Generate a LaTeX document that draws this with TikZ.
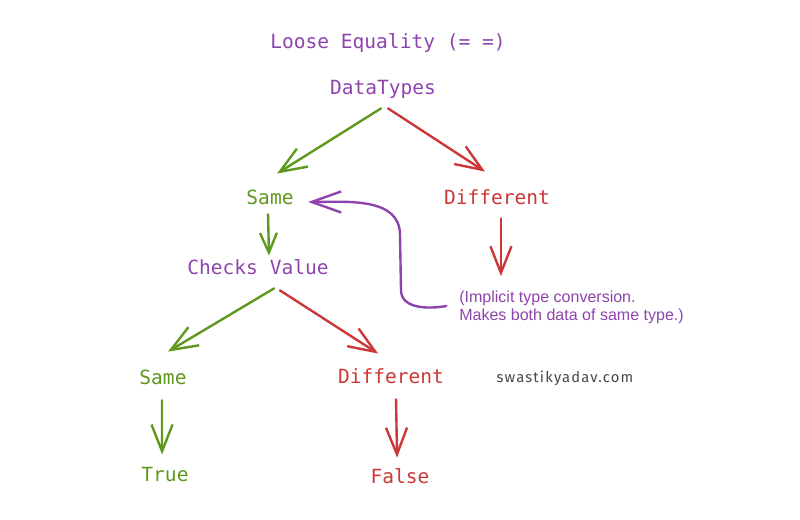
\documentclass[tikz,border=0pt]{standalone}
\usepackage{fontspec}
\setmainfont{Liberation Sans}
\newfontfamily\codefont{DejaVu Sans Mono}
\newfontfamily\signfont[LetterSpace=8]{Fira Sans}
\usetikzlibrary{arrows.meta}

\definecolor{eqpurple}{RGB}{142,68,173}
\definecolor{eqgreen}{RGB}{94,152,28}
\definecolor{eqred}{RGB}{204,55,55}
\definecolor{eqgray}{RGB}{70,70,70}

\begin{document}
\begin{tikzpicture}[txt/.style = {font=\codefont\fontsize{13.9}{16}\selectfont, inner sep=2pt, text height=10.5pt, text depth=3.5pt},
    yes/.style = {draw=eqgreen, line width=1.7pt, line cap=round, -{Straight Barb[length=19pt, width=15pt]}},
    no/.style = {draw=eqred, line width=1.7pt, line cap=round, -{Straight Barb[length=19pt, width=15pt]}},
    hint/.style = {draw=eqpurple, line width=1.7pt, line cap=round, -{Straight Barb[length=21pt, width=15pt]}}]
    \useasboundingbox (0, 0) rectangle (20, 13);

    \node[txt, text=eqpurple] (title) at (9.7, 11.9) {Loose Equality (= =)};
    \node[txt, text=eqpurple] (dt) at (9.575, 10.75) {DataTypes};

    \node[txt, text=eqgreen] (same1) at (6.75, 8.0) {Same};
    \node[txt, text=eqred] (diff1) at (12.425, 8.0) {Different};
    \node[txt, text=eqpurple] (check) at (6.45, 6.25) {Checks Value};

    \node[txt, text=eqgreen] (same2) at (4.075, 3.5) {Same};
    \node[txt, text=eqred] (diff2) at (9.775, 3.525) {Different};
    \node[txt, text=eqgreen] (true) at (4.125, 1.075) {True};
    \node[txt, text=eqred] (false) at (10.0, 1.025) {False};

    \node[anchor=west, align=left, inner sep=0pt, text=eqpurple, font=\fontsize{11.4}{12.8}\selectfont] (note) at (11.475, 5.325) {(Implicit type conversion.\\Makes both data of same type.)};
    \node[text=eqgray, font=\signfont\fontsize{10.5}{13}\selectfont] (web) at (14.125, 3.55) {swastikyadav.com};
    \coordinate (bend1) at (10.025, 5.75);
    \coordinate (bend2) at (10.0, 7.125);

    \draw[yes] ([xshift=-1.4pt, yshift=-3.9pt]dt.south) -- ([xshift=5pt, yshift=9.6pt]same1.north);
    \draw[no] ([xshift=3.6pt, yshift=-3.9pt]dt.south) -- ([xshift=-8.5pt, yshift=11pt]diff1.north);

    \draw[yes, -{Straight Barb[length=14pt, width=12pt]}] ([xshift=-1.4pt, yshift=-1pt]same1.south) -- ([xshift=7.8pt, yshift=1pt]check.north);
    \draw[no] ([xshift=2.8pt, yshift=-3.9pt]diff1.south) -- ([xshift=2.8pt, yshift=10pt]diff1.south |- note.north);

    \draw[yes] ([xshift=11.4pt, yshift=-3.9pt]check.south) -- ([xshift=3.6pt, yshift=11pt]same2.north);
    \draw[no] ([xshift=15.6pt, yshift=-5.3pt]check.south) -- ([xshift=-9.2pt, yshift=8.9pt]diff2.north);

    \draw[yes] ([xshift=-0.7pt, yshift=-5.3pt]same2.south) -- ([xshift=-2.1pt, yshift=6.8pt]true.north);
    \draw[no] ([xshift=3.6pt, yshift=-5.3pt]diff2.south) -- ([xshift=-2.1pt, yshift=6pt]false.north);

    \draw[hint] ([xshift=-9pt, yshift=0.7pt]note.west) to[out=190, in=-90] (bend1) -- (bend2) to[out=90, in=0] ([xshift=8.2pt, yshift=-1.4pt]same1.east);
  \end{tikzpicture}
\end{document}
